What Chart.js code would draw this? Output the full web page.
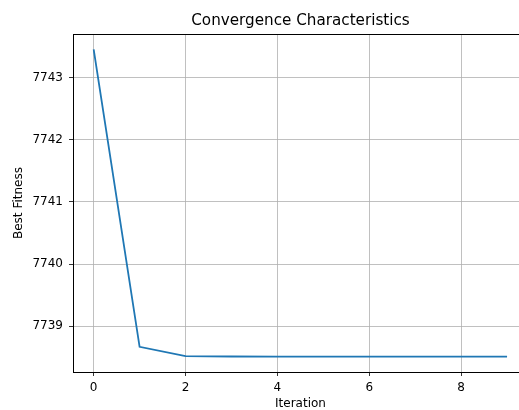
<!DOCTYPE html>
<html>
<head>
<meta charset="utf-8">
<script src="https://cdn.jsdelivr.net/npm/chart.js@4/dist/chart.umd.min.js"></script>
<style>
  html, body { margin: 0; padding: 0; background: #fff; overflow: hidden; width: 519px; height: 410px; }
  canvas { display: block; }
</style>
</head>
<body>
<canvas id="c" width="519" height="410" style="width:519px;height:410px"></canvas>
<script>
const iterations = [0, 1, 2, 3, 4, 5, 6, 7, 8, 9];
const bestFitness = [7743.45, 7738.67, 7738.52, 7738.515, 7738.514, 7738.513, 7738.513, 7738.513, 7738.513, 7738.513];
const xTicks = [0, 2, 4, 6, 8];
const yTicks = [7739, 7740, 7741, 7742, 7743];

const FONT = "'DejaVu Sans', sans-serif";

// matplotlib-like 5% margins; the right end of the axes is cut off by the picture edge
const xMinD = Math.min(...iterations), xMaxD = Math.max(...iterations);
const yMinD = Math.min(...bestFitness), yMaxD = Math.max(...bestFitness);
const xm = (xMaxD - xMinD) * 0.05, ym = (yMaxD - yMinD) * 0.05;
const xCut = 0.19;
const hiddenRight = 9; // px of the axes beyond the picture edge

const layoutTweaks = {
  id: 'layoutTweaks',
  afterLayout(chart) {
    const a = chart.chartArea;
    const tb = chart.titleBlock;
    if (tb) { tb.left = a.left; tb.right = a.right + hiddenRight; }
    const s = chart.scales.x;
    if (s && !s._wrappedTitle) {
      const orig = s.drawTitle;
      s.drawTitle = function () {
        const r = this.right;
        this.right = r + hiddenRight;
        orig.call(this);
        this.right = r;
      };
      s._wrappedTitle = true;
    }
  },
  afterDatasetsDraw(chart) {
    const {ctx, chartArea: a} = chart;
    ctx.save();
    ctx.strokeStyle = '#000';
    ctx.lineWidth = 1;
    ctx.beginPath();
    ctx.moveTo(a.left, Math.round(a.top) + 0.5);
    ctx.lineTo(a.right, Math.round(a.top) + 0.5);
    ctx.stroke();
    ctx.restore();
  }
};

new Chart(document.getElementById('c'), {
  type: 'line',
  data: {
    datasets: [{
      data: iterations.map((x, i) => ({x, y: bestFitness[i]})),
      borderColor: '#1f77b4',
      borderWidth: 1.8,
      pointRadius: 0,
      fill: false,
      tension: 0
    }]
  },
  options: {
    responsive: false,
    animation: false,
    devicePixelRatio: 1,
    layout: { padding: { left: 0, right: 0, top: 0, bottom: 0 } },
    plugins: {
      legend: { display: false },
      tooltip: { enabled: false },
      title: {
        display: true,
        text: 'Convergence Characteristics',
        color: '#000',
        font: { family: FONT, size: 15.2, weight: 'normal', lineHeight: 1.2 },
        padding: { top: 11.5, bottom: 4.3 }
      }
    },
    scales: {
      x: {
        type: 'linear',
        min: xMinD - xm,
        max: xMaxD + xm - xCut,
        afterFit(s) { s.height = 38; },
        afterBuildTicks(s) { s.ticks = xTicks.map(v => ({value: v})); },
        ticks: { color: '#000', font: { family: FONT, size: 12 }, padding: 5, includeBounds: false, maxRotation: 0, callback: v => String(v) },
        grid: { color: '#b0b0b0', lineWidth: 0.8, tickColor: '#000', tickLength: 4, drawTicks: true },
        border: { display: true, color: '#000', width: 1 },
        title: { display: true, text: 'Iteration', color: '#000', font: { family: FONT, size: 12, lineHeight: 1 }, padding: { top: 0, bottom: 0 } }
      },
      y: {
        type: 'linear',
        min: yMinD - ym,
        max: yMaxD + ym,
        afterFit(s) { s.width = 73; },
        afterBuildTicks(s) { s.ticks = yTicks.map(v => ({value: v})); },
        ticks: { color: '#000', font: { family: FONT, size: 12 }, padding: 6, includeBounds: false, callback: v => String(v) },
        grid: { color: '#b0b0b0', lineWidth: 0.8, tickColor: '#000', tickLength: 4, drawTicks: true },
        border: { display: true, color: '#000', width: 1 },
        title: { display: true, text: 'Best Fitness', color: '#000', font: { family: FONT, size: 12, lineHeight: 1 }, padding: { top: 12.5, bottom: 0 } }
      }
    }
  },
  plugins: [layoutTweaks]
});
</script>
</body>
</html>
